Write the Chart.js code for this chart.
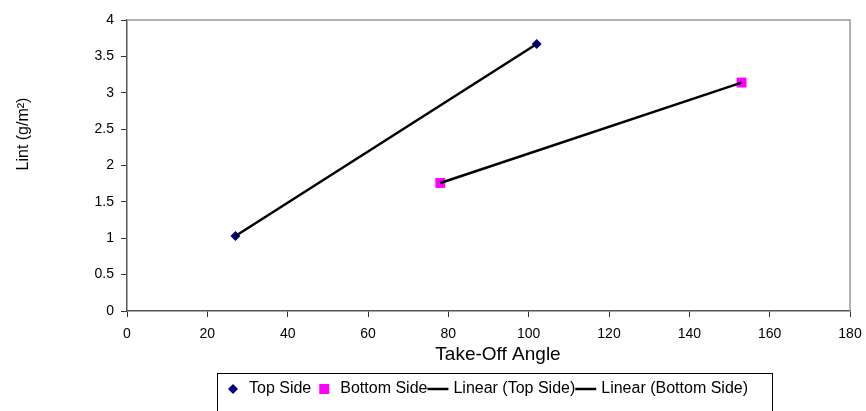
<!DOCTYPE html>
<html lang="en">
<head>
  <meta charset="UTF-8"/>
  <title>Lint vs Take-Off Angle</title>
  <script src="https://cdn.jsdelivr.net/npm/chart.js"></script>
  <style>
    html, body {
      margin: 0;
      padding: 0;
      background: #fff;
    }
    #wrap {
      width: 866px;
      height: 411px;
    }
  </style>
</head>
<body>
  <div id="wrap">
    <canvas id="lintChart" width="866" height="411"></canvas>
  </div>
  <script>
    // values
    const topAngle = [27, 102];
    const topLint = [1.03, 3.67];
    const bottomAngle = [78, 153];
    const bottomLint = [1.76, 3.14];
    const xTicks = [0, 20, 40, 60, 80, 100, 120, 140, 160, 180];
    const yTicks = [0, 0.5, 1, 1.5, 2, 2.5, 3, 3.5, 4];
    const xTitle = 'Take-Off Angle';
    const yTitle = 'Lint (g/m²)';

    const FONT = 'Liberation Sans, Arial, sans-serif';

    function points(xs, ys) {
      return xs.map((x, i) => ({ x: x, y: ys[i] }));
    }

    // least-squares line, like the spreadsheet "Linear" trendline
    function linearFit(xs, ys) {
      const n = xs.length;
      const mx = xs.reduce((a, b) => a + b, 0) / n;
      const my = ys.reduce((a, b) => a + b, 0) / n;
      let sxy = 0, sxx = 0;
      for (let i = 0; i < n; i++) {
        sxy += (xs[i] - mx) * (ys[i] - my);
        sxx += (xs[i] - mx) * (xs[i] - mx);
      }
      const slope = sxy / sxx;
      const icpt = my - slope * mx;
      const lo = Math.min(...xs), hi = Math.max(...xs);
      return [{ x: lo, y: icpt + slope * lo }, { x: hi, y: icpt + slope * hi }];
    }

    // grey frame on top/right of the plot area
    const frame = {
      id: 'frame',
      beforeDatasetsDraw(chart) {
        const a = chart.chartArea;
        const ctx = chart.ctx;
        ctx.save();
        ctx.strokeStyle = '#999';
        ctx.lineWidth = 1.5;
        ctx.beginPath();
        ctx.moveTo(a.left, a.top);
        ctx.lineTo(a.right, a.top);
        ctx.lineTo(a.right, a.bottom);
        ctx.stroke();
        ctx.restore();
      }
    };

    // axis titles placed where the original has them
    const axisTitles = {
      id: 'axisTitles',
      afterDraw(chart) {
        const ctx = chart.ctx;
        ctx.save();
        ctx.fillStyle = '#000';
        ctx.textAlign = 'center';
        ctx.textBaseline = 'middle';
        ctx.font = '19px ' + FONT;
        ctx.fillText(xTitle, 498, 355);
        ctx.translate(24, 134);
        ctx.rotate(-Math.PI / 2);
        ctx.font = '16px ' + FONT;
        ctx.fillText(yTitle, 0, 0);
        ctx.restore();
      }
    };

    // boxed legend below the axis title, Excel style
    const boxLegend = {
      id: 'boxLegend',
      afterDraw(chart) {
        const ctx = chart.ctx;
        const y = 389;
        ctx.save();
        ctx.strokeStyle = '#000';
        ctx.lineWidth = 1;
        ctx.strokeRect(217.5, 373.5, 555, 60);
        ctx.font = '16px ' + FONT;
        ctx.textBaseline = 'middle';
        ctx.fillStyle = '#000';
        let x = 220;
        chart.data.datasets.forEach(ds => {
          if (ds.showLine) {
            ctx.strokeStyle = ds.borderColor;
            ctx.lineWidth = 2.5;
            ctx.beginPath();
            ctx.moveTo(x, y);
            ctx.lineTo(x + 21, y);
            ctx.stroke();
            x += 26;
          } else {
            const cx = x + 13;
            ctx.fillStyle = ds.backgroundColor;
            if (ds.pointStyle === 'rectRot') {
              ctx.beginPath();
              ctx.moveTo(cx, y - 5);
              ctx.lineTo(cx + 5, y);
              ctx.lineTo(cx, y + 5);
              ctx.lineTo(cx - 5, y);
              ctx.closePath();
              ctx.fill();
            } else {
              ctx.fillRect(cx - 5, y - 5, 10, 10);
            }
            x = cx + 16;
          }
          ctx.fillStyle = '#000';
          ctx.fillText(ds.label, x, y);
          x += ctx.measureText(ds.label).width;
        });
        ctx.restore();
      }
    };

    const ctx = document.getElementById('lintChart').getContext('2d');
    new Chart(ctx, {
      type: 'scatter',
      data: {
        datasets: [
          {
            label: 'Top Side',
            data: points(topAngle, topLint),
            pointStyle: 'rectRot',
            pointRadius: 5,
            backgroundColor: '#000080',
            borderColor: '#000080',
            borderWidth: 0,
            order: 2
          },
          {
            label: 'Bottom Side',
            data: points(bottomAngle, bottomLint),
            pointStyle: 'rect',
            pointRadius: 7,
            backgroundColor: '#ff00ff',
            borderColor: '#ff00ff',
            borderWidth: 0,
            order: 2
          },
          {
            label: 'Linear (Top Side)',
            data: linearFit(topAngle, topLint),
            showLine: true,
            borderColor: '#000',
            borderWidth: 2.5,
            pointRadius: 0,
            order: 1
          },
          {
            label: 'Linear (Bottom Side)',
            data: linearFit(bottomAngle, bottomLint),
            showLine: true,
            borderColor: '#000',
            borderWidth: 2.5,
            pointRadius: 0,
            order: 1
          }
        ]
      },
      options: {
        responsive: false,
        animation: false,
        events: [],
        layout: { padding: { top: 20, right: 16, left: 0, bottom: 0 } },
        plugins: {
          legend: { display: false },
          tooltip: { enabled: false }
        },
        scales: {
          x: {
            type: 'linear',
            min: 0,
            max: 180,
            afterFit(s) { s.height = 100; s.paddingRight = 0; },
            afterBuildTicks(s) { s.ticks = xTicks.map(v => ({ value: v })); },
            grid: { drawOnChartArea: false, drawTicks: true, tickLength: 6, color: '#333', lineWidth: 1 },
            border: { display: true, color: '#555', width: 1.5 },
            ticks: { font: { family: FONT, size: 14 }, color: '#000', padding: 9, maxRotation: 0 }
          },
          y: {
            min: 0,
            max: 4,
            afterFit(s) { s.width = 127; },
            afterBuildTicks(s) { s.ticks = yTicks.map(v => ({ value: v })); },
            grid: { drawOnChartArea: false, drawTicks: true, tickLength: 6, color: '#333', lineWidth: 1 },
            border: { display: true, color: '#555', width: 1.5 },
            ticks: {
              font: { family: FONT, size: 14 },
              color: '#000',
              padding: 7,
              callback: v => String(v)
            }
          }
        }
      },
      plugins: [frame, axisTitles, boxLegend]
    });
  </script>
</body>
</html>
